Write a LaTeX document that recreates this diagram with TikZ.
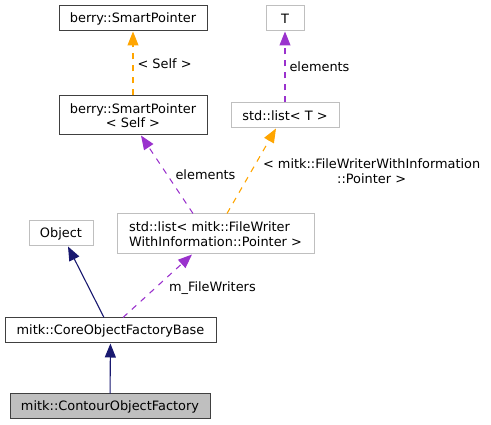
\documentclass[tikz,border=0pt]{standalone}
\usepackage{fontspec}
\setmainfont{DejaVu Sans}
\usetikzlibrary{arrows.meta}
\definecolor{edgeorange}{HTML}{FFA500}
\definecolor{edgepurple}{HTML}{9A32CD}
\definecolor{edgenavy}{HTML}{191970}
\definecolor{boxgray}{HTML}{BFBFBF}
\definecolor{boxdark}{HTML}{404040}
\tikzstyle{cls} = [rectangle, draw=boxdark, line width=1pt, inner sep=0pt, align=center, font=\fontsize{12.9}{14.5}\selectfont]
\tikzstyle{ext} = [cls, draw=boxgray]
\tikzstyle{tmpl} = [dash pattern=on 6pt off 6pt, line width=1.1pt, -{Triangle[length=14pt,width=11pt]}]
\tikzstyle{inherit} = [line width=1.1pt, edgenavy, -{Triangle[length=14pt,width=11pt]}]
\tikzstyle{lbl} = [font=\fontsize{12.9}{14.5}\selectfont, text=black, align=center, inner sep=0pt]

\begin{document}
\begin{tikzpicture}[x=1pt, y=-1pt]
    \useasboundingbox (0,0) rectangle (491,425);

    \node[cls, minimum width=148pt, minimum height=25pt] (sp) at (133,18.5) {berry::SmartPointer};
    \node[ext, minimum width=38pt, minimum height=25pt] (t) at (285,18.5) {T};
    \node[cls, minimum width=148pt, minimum height=39pt] (spself) at (133,115.5) {berry::SmartPointer\\< Self >};
    \node[ext, minimum width=108pt, minimum height=25pt] (listt) at (285,115.5) {std::list< T >};
    \node[ext, minimum width=197pt, minimum height=40pt, align=left] (listfw) at (215.5,234) {std::list< mitk::FileWriter\\WithInformation::Pointer >};
    \node[ext, minimum width=64pt, minimum height=25pt] (object) at (61,233.5) {Object};
    \node[cls, minimum width=211pt, minimum height=25pt] (base) at (110.5,330.5) {mitk::CoreObjectFactoryBase};
    \node[cls, fill=boxgray, minimum width=200pt, minimum height=25pt] (contour) at (110,406.5) {mitk::ContourObjectFactory};

    \draw [tmpl, edgeorange] (spself) -- node[lbl, anchor=west, xshift=4pt]{< Self >} (sp);
    \draw [tmpl, edgepurple] (listt) -- node[lbl, anchor=west, xshift=4pt]{elements} (t);
    \draw [tmpl, edgepurple] ([xshift=-22.5pt]listfw.north) -- node[lbl, anchor=west, xshift=8pt]{elements} ([xshift=8pt]spself.south);
    \draw [tmpl, edgeorange] ([xshift=11.5pt]listfw.north) -- node[lbl, anchor=west, xshift=11pt]{< mitk::FileWriterWithInformation\\::Pointer >} ([xshift=-9pt]listt.south);
    \draw [tmpl, edgepurple] ([xshift=12.5pt]base.north) -- node[lbl, anchor=west, xshift=11pt, yshift=-2pt]{m\_FileWriters} ([xshift=-23.5pt]listfw.south);
    \draw [inherit] ([xshift=-6.5pt]base.north) -- ([xshift=7pt]object.south);
    \draw [inherit] (contour) -- (base);

\end{tikzpicture}
\end{document}
